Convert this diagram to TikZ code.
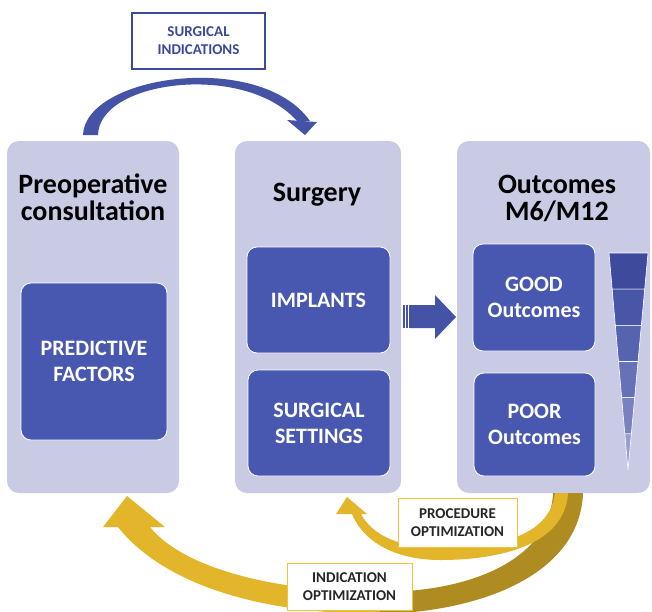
\documentclass[tikz,border=0pt]{standalone}
\usepackage{fontspec}
\setmainfont{Carlito}
\usetikzlibrary{calc}

\definecolor{panelgray}{RGB}{201,203,229}
\definecolor{boxblue}{RGB}{72,88,176}
\definecolor{arrowblue}{RGB}{68,83,166}
\definecolor{labelblue}{RGB}{58,74,155}
\definecolor{goldlight}{RGB}{227,181,42}
\definecolor{golddark}{RGB}{174,140,34}
\definecolor{goldline}{RGB}{238,196,60}
\definecolor{textgray}{RGB}{38,38,38}
\definecolor{fun0}{RGB}{62,74,155}
\definecolor{fun1}{RGB}{72,86,168}
\definecolor{fun2}{RGB}{86,99,175}
\definecolor{fun3}{RGB}{103,114,182}
\definecolor{fun4}{RGB}{121,130,190}
\definecolor{fun5}{RGB}{150,158,205}

\begin{document}
\begin{tikzpicture}[x=1pt, y=-1pt,
    panel/.style={rounded corners=12pt, fill=panelgray, inner sep=0pt},
    title/.style={font=\bfseries\fontsize{28}{27}\selectfont, align=center, inner sep=0pt},
    inbox/.style={rounded corners=10pt, fill=boxblue, draw=white, line width=0.8pt,
        text=white, font=\bfseries\fontsize{22}{26}\selectfont, align=center, inner sep=0pt},
    labelbox/.style={fill=white, draw=goldline, line width=1pt, text=textgray,
        font=\bfseries\fontsize{15}{18}\selectfont, align=center, inner sep=0pt}]
    \useasboundingbox (0,0) rectangle (652,611);

    % Three columns
    \node[panel, minimum width=172, minimum height=352] (pre) at (93,317) {};
    \node[panel, minimum width=166, minimum height=352] (surg) at (318,317) {};
    \node[panel, minimum width=193, minimum height=352] (outc) at (553.5,317) {};

    \node[title] (preT) at (93,197) {Preoperative\\consultation};
    \node[title, anchor=base] (surgT) at (317,201) {Surgery};
    \node[title] (outT) at (557,198) {Outcomes\\M6/M12};

    % Boxes inside the columns
    \node[inbox, minimum width=146, minimum height=157] (pred) at (94,361.5) {PREDICTIVE\\FACTORS};
    \node[inbox, minimum width=143, minimum height=106] (impl) at (318.5,300) {IMPLANTS};
    \node[inbox, minimum width=142, minimum height=106] (sset) at (319,423) {SURGICAL\\SETTINGS};
    \node[inbox, minimum width=122, minimum height=107] (good) at (534,297.5) {GOOD\\Outcomes};
    \node[inbox, minimum width=121, minimum height=103] (poor) at (534.5,424.5) {POOR\\Outcomes};

    % Funnel, dark at the top
    \coordinate (ftl) at (609,253);
    \coordinate (ftr) at (648,253);
    \coordinate (ftip) at (628,470);
    \foreach \k in {0,...,5} {
        \filldraw[fill=fun\k, draw=white, line width=0.6pt]
            ($(ftl)!\k/6!(ftip)$) -- ($(ftr)!\k/6!(ftip)$)
            -- ($(ftr)!{(\k+1)/6}!(ftip)$) -- ($(ftl)!{(\k+1)/6}!(ftip)$) -- cycle;
    }

    % Striped arrow from surgery to outcomes
    \foreach \a/\b in {403/405, 406.3/407.6, 408.6/409.6} {
        \fill[arrowblue] (\a,305) rectangle (\b,328);
    }
    \fill[arrowblue] (410,305) -- (435,305) -- (435,295) -- (456,317)
        -- (435,339) -- (435,328) -- (410,328) -- cycle;

    % Curved arrow over the top
    \fill[arrowblue] (83,135) .. controls (85,75) and (260,50) .. (310,121)
        -- (297,121) .. controls (245,62) and (99,80) .. (98,135) -- cycle;
    \fill[arrowblue] (287,120) -- (317,122) -- (305,135) -- cycle;

    % Big return arrow to the consultation
    \fill[golddark] (583,493) .. controls (580,575) and (480,612) .. (380,614)
        -- (380,592) .. controls (470,592) and (550,560) .. (553,493) -- cycle;
    \fill[goldlight] (380,614) .. controls (250,614) and (160,580) .. (118,527)
        -- (103,527) -- (127,496) -- (165,527) -- (150,527)
        .. controls (185,570) and (280,592) .. (380,592) -- cycle;

    % Small return arrow to the surgery
    \fill[goldlight] (568,493) .. controls (565,545) and (500,560) .. (440,560)
        .. controls (400,560) and (365,545) .. (352,514)
        -- (336,514) -- (347,497) -- (367,514) -- (361,514)
        .. controls (372,535) and (400,548) .. (440,548)
        .. controls (500,548) and (550,535) .. (555,493) -- cycle;

    % Labels on the arrows
    \node[labelbox, draw=labelblue, line width=2pt, text=labelblue,
        minimum width=133, minimum height=56] (ind) at (198.5,41) {SURGICAL\\INDICATIONS};
    \node[labelbox, minimum width=119, minimum height=49] (proc) at (457.5,522.5) {PROCEDURE\\OPTIMIZATION};
    \node[labelbox, minimum width=125, minimum height=47] (indopt) at (349.5,586.5) {INDICATION\\OPTIMIZATION};
\end{tikzpicture}
\end{document}
